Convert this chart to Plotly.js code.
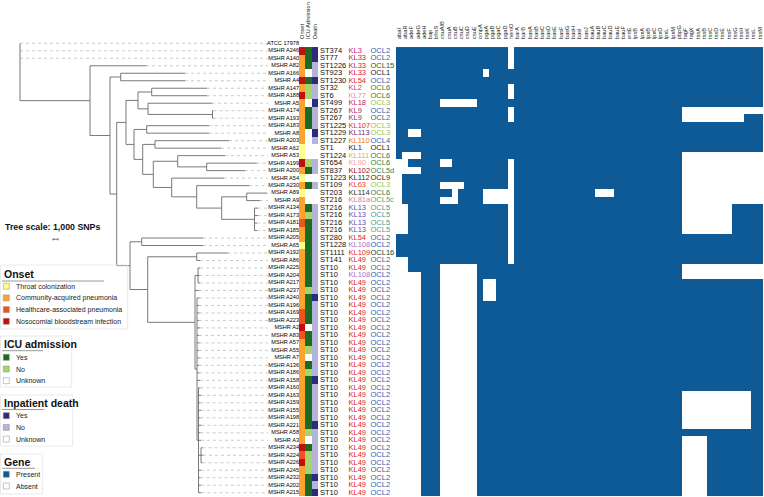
<!DOCTYPE html>
<html><head><meta charset="utf-8">
<script src="https://cdn.plot.ly/plotly-3.0.1.min.js"></script>
<style>html,body{margin:0;padding:0;background:#fff}#chart{width:764px;height:497px}</style>
</head><body><div id="chart"></div>
<script>
// ---------------- DATA ----------------
const strains = ["ATCC 17978","MSHR A246","MSHR A140","MSHR A82","MSHR A166","MSHR A4","MSHR A147","MSHR A188","MSHR A5","MSHR A174","MSHR A193","MSHR A183","MSHR A8","MSHR A203","MSHR A62","MSHR A53","MSHR A199","MSHR A200","MSHR A54","MSHR A230","MSHR A89","MSHR A9","MSHR A134","MSHR A173","MSHR A181","MSHR A185","MSHR A205","MSHR A65","MSHR A192","MSHR A86","MSHR A225","MSHR A204","MSHR A217","MSHR A237","MSHR A240","MSHR A196","MSHR A169","MSHR A223","MSHR A2","MSHR A83","MSHR A57","MSHR A55","MSHR A7","MSHR A136","MSHR A186","MSHR A158","MSHR A160","MSHR A163","MSHR A159","MSHR A155","MSHR A198","MSHR A221","MSHR A58","MSHR A3","MSHR A234","MSHR A224","MSHR A226","MSHR A245","MSHR A232","MSHR A202","MSHR A215"];

// T = throat colonization, C = community-acquired, H = healthcare-associated, N = nosocomial BSI
const onset = ["","N","C","C","C","N","C","N","C","C","C","C","C","C","T","T","N","C","T","C","T","C","C","C","H","C","C","T","C","C","C","C","C","C","C","C","H","H","N","H","C","C","C","C","C","C","C","C","C","C","C","C","C","C","N","H","N","C","C","C","C"];
// Y = yes, N = no, U = unknown
const icu = ["","Y","Y","Y","U","Y","N","N","U","Y","Y","Y","U","U","U","U","N","Y","U","Y","U","U","Y","N","Y","Y","Y","Y","Y","Y","Y","Y","Y","N","Y","Y","Y","Y","U","Y","Y","N","U","Y","N","Y","Y","Y","Y","Y","Y","Y","N","U","Y","N","N","N","Y","Y","Y"];
const death = ["","Y","Y","N","N","Y","N","N","Y","N","N","N","Y","N","U","U","N","N","U","N","U","U","N","N","N","N","N","N","N","N","N","N","N","N","Y","N","N","N","N","N","N","N","N","N","N","Y","N","N","N","N","N","Y","N","N","N","N","N","N","Y","N","Y"];

const st = ["","ST374","ST77","ST1226","ST923","ST1230","ST32","ST6","ST499","ST267","ST267","ST1225","ST1229","ST1227","ST1","ST1224","ST654","ST837","ST1223","ST109","ST203","ST216","ST216","ST216","ST216","ST216","ST280","ST1228","ST1111","ST141","ST10","ST10","ST10","ST10","ST10","ST10","ST10","ST10","ST10","ST10","ST10","ST10","ST10","ST10","ST10","ST10","ST10","ST10","ST10","ST10","ST10","ST10","ST10","ST10","ST10","ST10","ST10","ST10","ST10","ST10","ST10"];
const kl = ["","KL3","KL33","KL33","KL33","KL54","KL2","KL77","KL18","KL9","KL9","KL107","KL113","KL110","KL1","KL111","KL90","KL102","KL112","KL63","KL114","KL81a","KL13","KL13","KL13","KL13","KL54","KL108","KL109","KL49","KL49","KL108","KL49","KL49","KL49","KL49","KL49","KL49","KL49","KL49","KL49","KL49","KL49","KL49","KL49","KL49","KL49","KL49","KL49","KL49","KL49","KL49","KL49","KL49","KL49","KL49","KL49","KL49","KL49","KL49","KL49"];
const ocl = ["","OCL2","OCL2","OCL15","OCL1","OCL2","OCL6","OCL6","OCL3","OCL2","OCL2","OCL3","OCL3","OCL4","OCL1","OCL6","OCL6","OCL5d","OCL9","OCL3","OCL6","OCL5c","OCL5","OCL5","OCL5","OCL5","OCL2","OCL2","OCL16","OCL2","OCL2","OCL2","OCL2","OCL2","OCL2","OCL2","OCL2","OCL2","OCL2","OCL2","OCL2","OCL2","OCL2","OCL2","OCL2","OCL2","OCL2","OCL2","OCL2","OCL2","OCL2","OCL2","OCL2","OCL2","OCL2","OCL2","OCL2","OCL2","OCL2","OCL2","OCL2"];

const genes = ["abaI","abaR","adeF","adeG","adeH","bap","bfmS","csuA/B","csuA","csuB","csuC","csuD","csuE","ompA","pgaA","pgaB","pgaC","pgaD","hemO","barA","barB","basA","basB","basC","basD","basE","basF","basG","basH","basI","basJ","bauA","bauB","bauC","bauD","bauE","bauF","entE","lpsB","lpxA","lpxB","lpxC","lpxD","lpxL","lpxM","pbpG","tagF","tagX","tssA","tssB","tssC","tssD","tssE","tssF","tssG","tssH","tssK","tssL","tssM"];
const stripHeaders = ["Onset","ICU Admission","Death"];

// gene absences: [first strain, last strain, first gene, last gene]
const absentRanges = [
  ["MSHR A246","MSHR A82","hemO","hemO"],
  ["MSHR A166","MSHR A166","pgaA","pgaA"],
  ["MSHR A147","MSHR A188","hemO","hemO"],
  ["MSHR A5","MSHR A5","csuA/B","csuE"],
  ["MSHR A174","MSHR A193","hemO","hemO"],
  ["MSHR A174","MSHR A174","tagF","tssM"],
  ["MSHR A193","MSHR A193","tagF","tssH"],
  ["MSHR A8","MSHR A8","adeF","adeG"],
  ["MSHR A53","MSHR A53","abaR","adeG"],
  ["MSHR A53","MSHR A9","tagF","tssM"],
  ["MSHR A134","MSHR A185","tagF","tssF"],
  ["MSHR A199","MSHR A86","hemO","hemO"],
  ["MSHR A199","MSHR A199","abaI","abaR"],
  ["MSHR A199","MSHR A199","csuA/B","csuA"],
  ["MSHR A200","MSHR A200","abaI","adeG"],
  ["MSHR A54","MSHR A9","abaI","abaI"],
  ["MSHR A230","MSHR A230","csuA/B","csuC"],
  ["MSHR A89","MSHR A89","csuB","csuB"],
  ["MSHR A89","MSHR A9","pgaA","pgaD"],
  ["MSHR A89","MSHR A89","bauB","bauD"],
  ["MSHR A9","MSHR A9","csuA/B","csuB"],
  ["MSHR A134","MSHR A185","abaI","abaR"],
  ["MSHR A86","MSHR A215","abaI","abaR"],
  ["MSHR A204","MSHR A215","adeF","adeG"],
  ["MSHR A225","MSHR A215","csuA/B","csuE"],
  ["MSHR A225","MSHR A204","tagF","tssM"],
  ["MSHR A217","MSHR A240","pgaA","pgaB"],
  ["MSHR A163","MSHR A221","tagF","tssK"],
  ["MSHR A3","MSHR A215","tagF","tssB"]
];

// phylogeny, branch lengths in units of 1,000 SNPs
const newick = "(ATCC 17978:0,MSHR A246:0,MSHR A140:0,(MSHR A82:11.2,((MSHR A166:12.86,MSHR A4:12.86):2.14,((((MSHR A147:11.06,MSHR A188:11.06):2.74,(MSHR A5:12.8,(MSHR A174:0.2,MSHR A193:0.2):12.9):2):2.4,((MSHR A183:12.46,MSHR A8:12.46):2.54,((MSHR A203:14.8,MSHR A62:13.2):2.46,((MSHR A53:9.46,(MSHR A199:10,MSHR A200:7.66):5.8):4.88,(MSHR A54:10.46,(MSHR A230:10.52,((MSHR A89:4.06,MSHR A9:2.66):5,(MSHR A134:0.7,MSHR A173:0.7,MSHR A181:0.5,MSHR A185:0.5):6.56):5):5):3.68):2.12):1.74):1.6):1.86,((MSHR A205:12.26,MSHR A65:12.26):2.34,((MSHR A192:6.26,MSHR A86:0.66):9.8,((MSHR A225:0.4,MSHR A204:0.3,MSHR A217:0.4):0.6,MSHR A237:0.8,(MSHR A240:0.5,MSHR A196:0.4,MSHR A169:0.5,MSHR A223:0.4,MSHR A2:0.6,MSHR A83:0.4,MSHR A57:0.5,MSHR A55:0.4,MSHR A7:0.5,MSHR A136:0.4,MSHR A186:0.5,MSHR A158:0.6,(MSHR A160:0.4,MSHR A163:0.5,MSHR A159:0.4,MSHR A155:0.5,MSHR A198:0.4,MSHR A221:0.6,MSHR A58:0.4,MSHR A3:0.5,(MSHR A234:0.3,MSHR A224:0.4,MSHR A226:0.3):0.5,MSHR A245:0.5,MSHR A232:0.4,MSHR A202:0.5,MSHR A215:0.6):0.3):0.4):9.46):3.54):2.66):1.34):4):14);";
const scaleBarSNPs = 1; // 1,000 SNPs

const onsetCodes = ["T","C","H","N"];
const onsetLabels = ["Throat colonization","Community-acquired pneumonia","Healthcare-associated pneumonia","Nosocomial bloodstream infection"];
const onsetColors = ["#ffff8e","#fba32c","#f2521d","#c40d0d"];
const ynCodes = ["Y","N","U"];
const icuLabels = ["Yes","No","Unknown"];
const icuColors = ["#1b6b20","#a8d46c","#ffffff"];
const deathLabels = ["Yes","No","Unknown"];
const deathColors = ["#2d2b7c","#b4b4da","#ffffff"];
const geneLabels = ["Present","Absent"];
const geneColors = ["#0e5a97","#ffffff"];

const klColors = {KL3:"#c8207e",KL33:"#c9183e",KL54:"#e4221f",KL2:"#d53189",KL77:"#f28b9b",KL18:"#c21a5c",KL9:"#a3206c",KL107:"#e3261f",KL113:"#6b2b80",KL110:"#f07a1a",KL1:"#1e1e1e",KL111:"#e6aa3a",KL90:"#f4a4a6",KL102:"#a5121a",KL112:"#2a2a2a",KL63:"#e8403c",KL114:"#1f3a22",KL81a:"#e87896",KL13:"#5d4fa2",KL108:"#9d73c8",KL109:"#e3261f",KL49:"#d71a1e"};
const oclColors = {OCL2:"#2a62a8",OCL15:"#1d5e24",OCL1:"#1e1e1e",OCL6:"#2f7d33",OCL3:"#8fc65a",OCL4:"#2c5fa8",OCL5d:"#2f8a55",OCL9:"#2a2a2a",OCL5c:"#4aa68a",OCL5:"#3f9c94",OCL16:"#1c3d1e"};

// ---------------- GEOMETRY ----------------
const W = 764, H = 497;
const rowTop = 43.3, rowStep = 7.49;
const yTopVal = -rowTop / rowStep, yBotVal = (H - rowTop) / rowStep;
const heatTopPx = rowTop + rowStep * 0.5;
const treeX0 = 20, pxPerUnit = 5, treeW = 270;
const leaderEnd = (268 - treeX0) / pxPerUnit;
const px = v => v / W, py = v => 1 - v / H;
const font = "Liberation Sans, Arial, sans-serif";

// ---------------- TREE ----------------
function parseNewick(s) {
  let i = 0;
  function node() {
    const n = {children: [], name: "", len: 0};
    if (s[i] === "(") {
      i++; n.children.push(node());
      while (s[i] === ",") { i++; n.children.push(node()); }
      i++;
    }
    let name = "";
    while (i < s.length && !":,);".includes(s[i])) name += s[i++];
    n.name = name.trim();
    if (s[i] === ":") { i++; let num = ""; while (i < s.length && !",);".includes(s[i])) num += s[i++]; n.len = parseFloat(num); }
    return n;
  }
  return node();
}
const tree = parseNewick(newick);
function place(n, x0) {
  n.x = x0 + n.len;
  if (n.children.length) {
    n.children.forEach(c => place(c, n.x));
    n.y = (n.children[0].y + n.children[n.children.length - 1].y) / 2;
  } else n.y = strains.indexOf(n.name);
}
place(tree, 0);
const tx = [], ty = [], lx = [], ly = [];
(function walk(n) {
  if (n.children.length) {
    const f = n.children[0], l = n.children[n.children.length - 1];
    tx.push(n.x, n.x, null); ty.push(f.y, l.y, null);
    n.children.forEach(c => { tx.push(n.x, c.x, null); ty.push(c.y, c.y, null); walk(c); });
  } else {
    lx.push(n.x, leaderEnd, null); ly.push(n.y, n.y, null);
  }
})(tree);

// ---------------- MATRICES ----------------
const rows = strains.map((s, i) => i).slice(1);
const stripZ = rows.map(r => [onsetCodes.indexOf(onset[r]), 4 + ynCodes.indexOf(icu[r]), 7 + ynCodes.indexOf(death[r])]);
const stripColors = onsetColors.concat(icuColors, deathColors);
const stripScale = stripColors.map((c, k) => [k / (stripColors.length - 1), c]);
const geneZ = rows.map(() => genes.map(() => 1));
absentRanges.forEach(([s0, s1, g0, g1]) => {
  for (let r = strains.indexOf(s0); r <= strains.indexOf(s1); r++)
    for (let g = genes.indexOf(g0); g <= genes.indexOf(g1); g++) geneZ[r - 1][g] = 0;
});

// ---------------- TRACES ----------------
const idx = strains.map((s, i) => i);
const colFont = 7.5;
const traces = [
  {type: "scatter", mode: "lines", x: lx, y: ly, xaxis: "x", yaxis: "y", line: {color: "#b5b5b5", width: 0.7, dash: "dot"}, hoverinfo: "skip"},
  {type: "scatter", mode: "lines", x: tx, y: ty, xaxis: "x", yaxis: "y", line: {color: "#6a6a6a", width: 0.9}, hoverinfo: "skip"},
  {type: "scatter", mode: "lines", xaxis: "x", yaxis: "y", hoverinfo: "skip", line: {color: "#555", width: 0.8},
   x: [6.6, 6.6, null, 6.6, 6.6 + scaleBarSNPs, null, 6.6 + scaleBarSNPs, 6.6 + scaleBarSNPs],
   y: [26.02, 26.32, null, 26.17, 26.17, null, 26.02, 26.32]},
  {type: "scatter", mode: "text", x: idx.map(() => 299), y: idx, text: strains, xaxis: "x2", yaxis: "y", textposition: "middle left", textfont: {family: font, size: 5.6, color: "#000"}, hoverinfo: "skip"},
  {type: "scatter", mode: "text", x: idx.map(() => 320), y: idx, text: st, xaxis: "x2", yaxis: "y", textposition: "middle right", textfont: {family: font, size: colFont, color: "#111"}, hoverinfo: "skip"},
  {type: "scatter", mode: "text", x: idx.map(() => 348.5), y: idx, text: kl, xaxis: "x2", yaxis: "y", textposition: "middle right", textfont: {family: font, size: colFont, color: kl.map(k => klColors[k] || "#000")}, hoverinfo: "skip"},
  {type: "scatter", mode: "text", x: idx.map(() => 370.5), y: idx, text: ocl, xaxis: "x2", yaxis: "y", textposition: "middle right", textfont: {family: font, size: colFont, color: ocl.map(k => oclColors[k] || "#000")}, hoverinfo: "skip"},
  {type: "heatmap", x: stripHeaders, y: rows, z: stripZ, xaxis: "x3", yaxis: "y2", colorscale: stripScale, zmin: 0, zmax: stripColors.length - 1, showscale: false, hoverinfo: "skip"},
  {type: "heatmap", x: genes, y: rows, z: geneZ, xaxis: "x4", yaxis: "y2", colorscale: [[0, geneColors[1]], [1, geneColors[0]]], zmin: 0, zmax: 1, showscale: false, hoverinfo: "skip"}
];

// ---------------- LEGENDS ----------------
const shapes = [], annotations = [];
annotations.push({xref: "paper", yref: "paper", x: px(2.5), y: py(227), xanchor: "left", yanchor: "middle", showarrow: false, text: "<b>Tree scale: 1,000 SNPs</b>", font: {family: font, size: 8.8, color: "#111"}});
const blocks = [
  {title: "Onset", labels: onsetLabels, colors: onsetColors, titleY: 274, lineY: 281, lineX: 104, y0: 286.2, box: [0.5, 265, 127.7, 329]},
  {title: "ICU admission", labels: icuLabels, colors: icuColors, titleY: 344, lineY: 350.7, lineX: 43, y0: 357.3, box: [0.5, 336, 71.7, 387]},
  {title: "Inpatient death", labels: deathLabels, colors: deathColors, titleY: 403, lineY: 409.5, lineX: 44, y0: 415.7, box: [0.5, 395, 72.7, 446]},
  {title: "Gene", labels: geneLabels, colors: geneColors, titleY: 462, lineY: 468.3, lineX: 35, y0: 474.3, box: [0.5, 454, 42.7, 494]}
];
blocks.forEach(b => {
  shapes.push({type: "rect", xref: "paper", yref: "paper", x0: px(b.box[0]), x1: px(b.box[2]), y0: py(b.box[1]), y1: py(b.box[3]), line: {color: "#e4e4e4", width: 0.8}, fillcolor: "rgba(0,0,0,0)"});
  shapes.push({type: "line", xref: "paper", yref: "paper", x0: px(2), x1: px(b.lineX), y0: py(b.lineY), y1: py(b.lineY), line: {color: "#9a9a9a", width: 1}});
  annotations.push({xref: "paper", yref: "paper", x: px(2), y: py(b.titleY), xanchor: "left", yanchor: "middle", showarrow: false, text: "<b>" + b.title + "</b>", font: {family: font, size: 10.5, color: "#111"}});
  b.labels.forEach((lab, k) => {
    const yc = b.y0 + k * 11.7;
    shapes.push({type: "rect", xref: "paper", yref: "paper", x0: px(3.3), x1: px(9.3), y0: py(yc - 3), y1: py(yc + 3), fillcolor: b.colors[k], line: {color: "#8a8a8a", width: 0.5}});
    annotations.push({xref: "paper", yref: "paper", x: px(13.5), y: py(yc), xanchor: "left", yanchor: "middle", showarrow: false, text: lab, font: {family: font, size: 7, color: "#222"}});
  });
});

// ---------------- LAYOUT ----------------
const hidden = {visible: false, fixedrange: true};
const topTicks = {side: "top", anchor: "y2", type: "category", tickmode: "array", tickangle: -90, ticks: "outside", ticklen: 6, tickcolor: "rgba(0,0,0,0)", showline: false, showgrid: false, zeroline: false, tickfont: {family: font, size: 5.6, color: "#222"}, fixedrange: true};
const layout = {
  width: W, height: H, margin: {l: 0, r: 0, t: 0, b: 0}, paper_bgcolor: "#fff", plot_bgcolor: "rgba(0,0,0,0)", showlegend: false,
  xaxis: Object.assign({}, hidden, {domain: [0, treeW / W], range: [-treeX0 / pxPerUnit, (treeW - treeX0) / pxPerUnit], anchor: "y"}),
  yaxis: Object.assign({}, hidden, {domain: [0, 1], range: [yBotVal, yTopVal], anchor: "x"}),
  xaxis2: Object.assign({}, hidden, {domain: [0, 1], range: [0, W], anchor: "y"}),
  xaxis3: Object.assign({}, topTicks, {domain: [299 / W, 318.3 / W], tickvals: stripHeaders, ticktext: stripHeaders}),
  xaxis4: Object.assign({}, topTicks, {domain: [396 / W, 763 / W], tickvals: genes, ticktext: genes}),
  yaxis2: Object.assign({}, hidden, {domain: [0, 1 - heatTopPx / H], range: [yBotVal, 0.5], anchor: "x3"}),
  shapes: shapes, annotations: annotations
};
Plotly.newPlot("chart", traces, layout, {staticPlot: true, displayModeBar: false});
</script>
</body></html>
